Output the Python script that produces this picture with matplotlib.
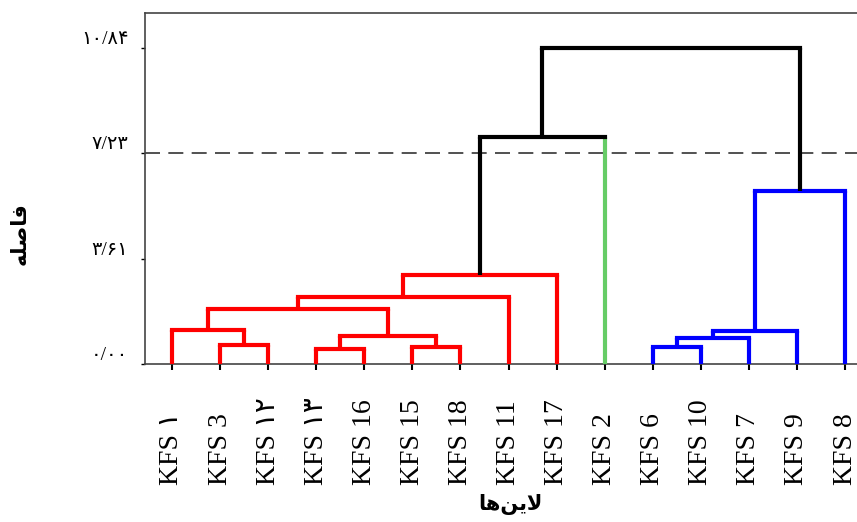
import matplotlib
matplotlib.use("Agg")
import matplotlib.pyplot as plt

# ---- data ----
leaf_labels = ["KFS ۱", "KFS 3", "KFS ۱۲", "KFS ۱۳", "KFS 16", "KFS 15", "KFS 18",
               "KFS 11", "KFS 17", "KFS 2", "KFS 6", "KFS 10", "KFS 7", "KFS 9", "KFS 8"]
leaf_colors = ["red"] * 9 + ["#66cc66"] + ["blue"] * 5

# merges: ids 0..14 are leaves, ids >= 15 refer to earlier merges (15 = first merge)
merge_left = [1, 0, 3, 5, 17, 16, 7, 8, 10, 23, 24, 25, 22, 27]
merge_right = [2, 15, 4, 6, 18, 19, 20, 21, 11, 12, 13, 14, 9, 26]
merge_height = [0.65, 1.17, 0.50, 0.57, 0.96, 1.88, 2.31, 3.05, 0.59, 0.88, 1.14, 5.93, 7.79, 10.84]
merge_color = ["red"] * 8 + ["blue"] * 4 + ["black", "black"]

cut_height = 7.23
ytick_values = [0.0, 3.61, 7.23, 10.84]
ytick_labels = ["۰/۰۰", "۳/۶۱", "۷/۲۳", "۱۰/۸۴"]
xlabel_text = "لاین‌ها"
ylabel_text = "فاصله"


# minimal Arabic shaping (matplotlib has no complex text layout)
FORMS = {  # isolated, final, initial, medial
    "ا": ("\uFE8D", "\uFE8E", None, None),
    "ف": ("\uFED1", "\uFED2", "\uFED3", "\uFED4"),
    "ص": ("\uFEB9", "\uFEBA", "\uFEBB", "\uFEBC"),
    "ل": ("\uFEDD", "\uFEDE", "\uFEDF", "\uFEE0"),
    "ه": ("\uFEE9", "\uFEEA", "\uFEEB", "\uFEEC"),
    "ن": ("\uFEE5", "\uFEE6", "\uFEE7", "\uFEE8"),
    "ی": ("\uFBFC", "\uFBFD", "\uFBFE", "\uFBFF"),
}


def shape(text):
    out = []
    chars = list(text)
    i = 0
    prev_joins = False
    while i < len(chars):
        ch = chars[i]
        if ch == "ل" and i + 1 < len(chars) and chars[i + 1] == "ا":
            out.append("\uFEFC" if prev_joins else "\uFEFB")
            prev_joins = False
            i += 2
            continue
        if ch not in FORMS:
            out.append("" if ch == "\u200c" else ch)
            prev_joins = False
            i += 1
            continue
        f = FORMS[ch]
        nxt = chars[i + 1] if i + 1 < len(chars) else None
        next_ok = nxt in FORMS and f[2] is not None
        if prev_joins and next_ok:
            out.append(f[3])
        elif prev_joins:
            out.append(f[1])
        elif next_ok:
            out.append(f[2])
        else:
            out.append(f[0])
        prev_joins = next_ok
        i += 1
    return "".join(reversed(out))


# ---- plot ----
fig = plt.figure(figsize=(8.57, 5.22), dpi=100)
ax = fig.add_axes([145 / 857, 158 / 522, (872 - 145) / 857, (364 - 13) / 522])

n = len(leaf_labels)
pos = {i: float(i + 1) for i in range(n)}
hgt = {i: 0.0 for i in range(n)}
lw = 3.0
for k in range(len(merge_height)):
    a, b, h, c = merge_left[k], merge_right[k], merge_height[k], merge_color[k]
    xa, xb = pos[a], pos[b]
    ca = leaf_colors[a] if a < n else c
    cb = leaf_colors[b] if b < n else c
    ax.plot([xa, xa], [hgt[a], h], color=ca, lw=lw, solid_capstyle="butt", zorder=3)
    ax.plot([xb, xb], [hgt[b], h], color=cb, lw=lw, solid_capstyle="butt", zorder=3)
    ax.plot([xa, xb], [h, h], color=c, lw=lw, solid_capstyle="projecting", zorder=3)
    nid = n + k
    pos[nid] = (xa + xb) / 2
    hgt[nid] = h

ax.axhline(cut_height, color="#333333", lw=1.2, dashes=(9, 5), zorder=2)

ax.set_xlim(0.44, 15.56)
ax.set_ylim(0, 12.04)

ax.set_xticks(range(1, n + 1))
ax.set_xticklabels(leaf_labels, rotation=90, fontsize=20,
                   family=["Liberation Serif", "DejaVu Sans"])
ax.tick_params(axis="x", length=4, width=1.5, pad=83)
for lab, t, c in zip(ax.get_xticklabels(), ax.xaxis.get_major_ticks(), leaf_colors):
    lab.set_va("bottom")
    t.tick1line.set_color(c)

ax.set_yticks(ytick_values)
ax.set_yticklabels(ytick_labels, fontsize=14, family=["Liberation Serif", "DejaVu Sans"])
ax.tick_params(axis="y", length=3, width=1, pad=9)
for lab in ax.get_yticklabels():
    lab.set_va("bottom")

for s in ax.spines.values():
    s.set_color("#444444")
    s.set_linewidth(1.2)

ax.set_xlabel(shape(xlabel_text), fontsize=15, fontweight="bold", family="DejaVu Sans")
ax.xaxis.set_label_coords((510 - 145) / 727, -(494 - 364) / 351)
ax.set_ylabel(shape(ylabel_text), fontsize=15, fontweight="bold", family="DejaVu Sans")
ax.yaxis.set_label_coords((30 - 145) / 727, (364 - 234) / 351)

fig.savefig("out.png", dpi=100)
